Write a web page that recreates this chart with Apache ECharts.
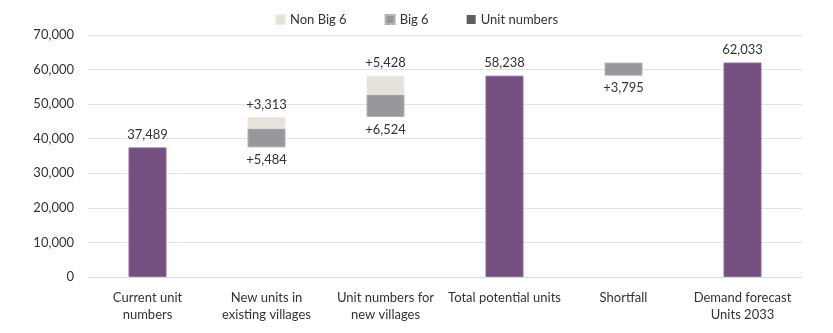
<!DOCTYPE html>
<html>
<head>
<meta charset="utf-8">
<script src="https://cdn.jsdelivr.net/npm/echarts@6/dist/echarts.min.js"></script>
<style>
  html, body { margin: 0; padding: 0; background: #ffffff; }
  #chart { width: 833px; height: 333px; }
</style>
</head>
<body>
<div id="chart"></div>
<script>
// Waterfall: current stock, additions, total, shortfall, demand forecast
const categories = [
  'Current unit\nnumbers',
  'New units in\nexisting villages',
  'Unit numbers for\nnew villages',
  'Total potential units',
  'Shortfall',
  'Demand forecast\nUnits 2033'
];
const unitNumbers = [37489, null, null, 58238, null, 62033];
const big6 = [null, 5484, 6524, null, 3795, null];
const nonBig6 = [null, 3313, 5428, null, null, null];
const yTicks = { min: 0, max: 70000, interval: 10000 };

// Invisible base for floating bars: running total before each step
const base = [];
let running = 0;
for (let i = 0; i < categories.length; i++) {
  if (unitNumbers[i] != null) {
    base.push(0);
    running = unitNumbers[i];
  } else {
    base.push(running);
    running += (big6[i] || 0) + (nonBig6[i] || 0);
  }
}

const fmt = v => Number(v).toLocaleString('en-US');
const FONT = 'Lato';
const TXT = '#333333';
const PURPLE = '#744f82';

const chart = echarts.init(document.getElementById('chart'), null, { renderer: 'canvas' });
chart.setOption({
  animation: false,
  textStyle: { fontFamily: FONT },
  legend: {
    top: 8,
    left: 'center',
    itemWidth: 9,
    itemHeight: 9,
    itemGap: 38,
    icon: 'rect',
    textStyle: { fontFamily: FONT, fontSize: 13, color: TXT },
    data: ['Non Big 6', 'Big 6', 'Unit numbers']
  },
  grid: { left: 88, right: 31, top: 35, bottom: 56 },
  xAxis: {
    type: 'category',
    data: categories,
    axisLine: { show: true, lineStyle: { color: '#d9d9d9' } },
    axisTick: { show: false },
    axisLabel: {
      interval: 0,
      fontFamily: FONT,
      fontSize: 13,
      color: TXT,
      lineHeight: 17,
      margin: 12
    }
  },
  yAxis: {
    type: 'value',
    min: yTicks.min,
    max: yTicks.max,
    interval: yTicks.interval,
    axisLine: { show: false },
    axisTick: { show: false },
    splitLine: { lineStyle: { color: '#e3e3e3' } },
    axisLabel: {
      fontFamily: FONT,
      fontSize: 13,
      color: TXT,
      margin: 14,
      formatter: v => fmt(v)
    }
  },
  series: [
    {
      name: 'base',
      type: 'bar',
      stack: 'w',
      data: base,
      barWidth: 38,
      itemStyle: { color: 'transparent' },
      emphasis: { disabled: true },
      silent: true
    },
    {
      name: 'Big 6',
      type: 'bar',
      stack: 'w',
      data: big6,
      barWidth: 38,
      itemStyle: { color: '#98989c', borderColor: '#b3b3b6', borderWidth: 1 },
      label: {
        show: true,
        position: 'bottom',
        distance: 6,
        fontFamily: FONT,
        fontSize: 13,
        color: TXT,
        formatter: p => '+' + fmt(p.value)
      }
    },
    {
      name: 'Non Big 6',
      type: 'bar',
      stack: 'w',
      data: nonBig6,
      barWidth: 38,
      itemStyle: { color: '#e6e1da', borderColor: '#eeeae5', borderWidth: 1 },
      label: {
        show: true,
        position: 'top',
        distance: 6,
        fontFamily: FONT,
        fontSize: 13,
        color: TXT,
        formatter: p => '+' + fmt(p.value)
      }
    },
    {
      // Legend swatch is dark grey; the bars themselves are purple
      name: 'Unit numbers',
      type: 'bar',
      stack: 'w',
      data: unitNumbers.map(v => v == null ? null : {
        value: v,
        itemStyle: { color: PURPLE, borderColor: '#8a6b96', borderWidth: 1 }
      }),
      barWidth: 38,
      itemStyle: { color: '#5e5e62' },
      label: {
        show: true,
        position: 'top',
        distance: 6,
        fontFamily: FONT,
        fontSize: 13,
        color: TXT,
        formatter: p => fmt(p.value)
      }
    }
  ]
});
</script>
</body>
</html>
